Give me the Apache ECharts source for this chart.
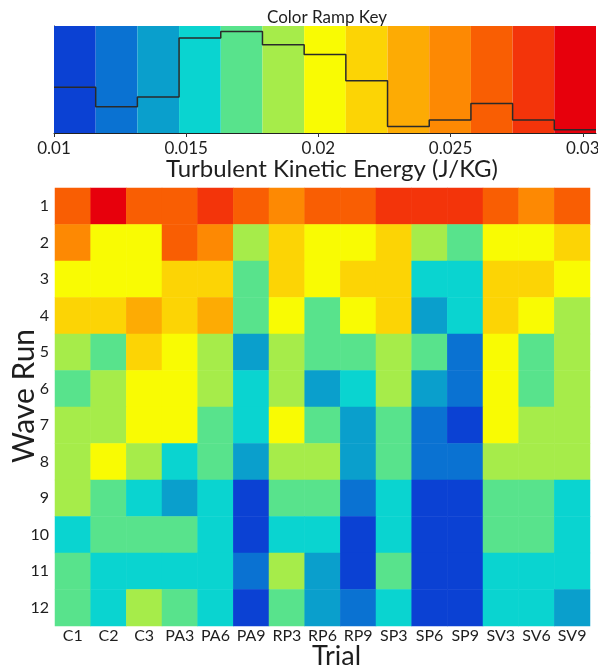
<!DOCTYPE html>
<html>
<head>
<meta charset="utf-8">
<script src="https://cdn.jsdelivr.net/npm/echarts@6/dist/echarts.min.js"></script>
<style>
  html, body { margin: 0; padding: 0; background: #fff; }
  #chart { width: 598px; height: 670px; }
</style>
</head>
<body>
<div id="chart"></div>
<script>
// Trials (columns) and wave runs (rows)
const trials = ['C1', 'C2', 'C3', 'PA3', 'PA6', 'PA9', 'RP3', 'RP6', 'RP9', 'SP3', 'SP6', 'SP9', 'SV3', 'SV6', 'SV9'];
const waveRuns = ['1', '2', '3', '4', '5', '6', '7', '8', '9', '10', '11', '12'];

// Turbulent kinetic energy (J/kg) per wave run (row) and trial (column)
const tke = [
  [0.0266, 0.0297, 0.0266, 0.0266, 0.0281, 0.0266, 0.0250, 0.0266, 0.0266, 0.0281, 0.0281, 0.0281, 0.0266, 0.0250, 0.0266],
  [0.0250, 0.0203, 0.0203, 0.0266, 0.0250, 0.0187, 0.0218, 0.0203, 0.0203, 0.0218, 0.0187, 0.0171, 0.0203, 0.0203, 0.0218],
  [0.0203, 0.0203, 0.0203, 0.0218, 0.0218, 0.0171, 0.0218, 0.0203, 0.0218, 0.0218, 0.0155, 0.0155, 0.0218, 0.0218, 0.0203],
  [0.0218, 0.0218, 0.0234, 0.0218, 0.0234, 0.0171, 0.0203, 0.0171, 0.0203, 0.0218, 0.0139, 0.0155, 0.0218, 0.0203, 0.0187],
  [0.0187, 0.0171, 0.0218, 0.0203, 0.0187, 0.0139, 0.0187, 0.0171, 0.0171, 0.0187, 0.0171, 0.0124, 0.0203, 0.0171, 0.0187],
  [0.0171, 0.0187, 0.0203, 0.0203, 0.0187, 0.0155, 0.0187, 0.0139, 0.0155, 0.0187, 0.0139, 0.0124, 0.0203, 0.0171, 0.0187],
  [0.0187, 0.0187, 0.0203, 0.0203, 0.0171, 0.0155, 0.0203, 0.0171, 0.0139, 0.0171, 0.0124, 0.0108, 0.0203, 0.0187, 0.0187],
  [0.0187, 0.0203, 0.0187, 0.0155, 0.0171, 0.0139, 0.0187, 0.0187, 0.0139, 0.0171, 0.0124, 0.0124, 0.0187, 0.0187, 0.0187],
  [0.0187, 0.0171, 0.0155, 0.0139, 0.0155, 0.0108, 0.0171, 0.0171, 0.0124, 0.0155, 0.0108, 0.0108, 0.0171, 0.0171, 0.0155],
  [0.0155, 0.0171, 0.0171, 0.0171, 0.0155, 0.0108, 0.0155, 0.0155, 0.0108, 0.0155, 0.0108, 0.0108, 0.0171, 0.0171, 0.0155],
  [0.0171, 0.0155, 0.0155, 0.0155, 0.0155, 0.0124, 0.0187, 0.0139, 0.0108, 0.0171, 0.0108, 0.0108, 0.0155, 0.0155, 0.0155],
  [0.0171, 0.0155, 0.0187, 0.0171, 0.0155, 0.0108, 0.0171, 0.0139, 0.0124, 0.0155, 0.0108, 0.0108, 0.0155, 0.0155, 0.0139]
];

// Color ramp range and tick labels
const rampMin = 0.01;
const rampMax = 0.0305;
const rampTicks = [0.01, 0.015, 0.02, 0.025, 0.03];

// One color per ramp class, blue (low) to red (high)
const rampColors = [
  '#0b41d3', '#0a72d2', '#0a9fcc', '#0ad4d0', '#58e38c', '#a6ec4a', '#f9fb03',
  '#fcd405', '#fdab04', '#fd8903', '#f95e03', '#f3340a', '#e7000c'
];

// Class edges split the ramp range evenly
const nBins = rampColors.length;
const binWidth = (rampMax - rampMin) / nBins;
const binEdges = rampColors.map((_, i) => rampMin + i * binWidth).concat([rampMax]);

// Count of cells falling in each class (histogram over all cells)
const binCounts = new Array(nBins).fill(0);
tke.forEach(row => row.forEach(v => {
  const k = Math.min(nBins - 1, Math.max(0, Math.floor((v - rampMin) / binWidth)));
  binCounts[k] += 1;
}));

// Series data
const binRects = binEdges.slice(0, -1).map((lo, i) => [lo, binEdges[i + 1], i]);
const histLine = binCounts.map((c, i) => [binEdges[i], c]).concat([[rampMax, binCounts[nBins - 1]]]);
const cells = [];
tke.forEach((row, r) => row.forEach((v, c) => cells.push([c, r, v])));
const pieces = binRects.map(([lo, hi, i]) => ({ gte: lo, lt: i === nBins - 1 ? hi + 1 : hi, color: rampColors[i] }));

const FONT = 'Lato, "Open Sans", sans-serif';
const TXT = '#1e1e1e';

const chart = echarts.init(document.getElementById('chart'), null, { renderer: 'canvas' });
chart.setOption({
  animation: false,
  backgroundColor: '#ffffff',
  title: {
    text: 'Color Ramp Key',
    left: 322,
    textAlign: 'center',
    top: 4,
    textStyle: { fontFamily: FONT, fontSize: 17, fontWeight: 'normal', color: TXT }
  },
  grid: [
    { left: 54, top: 26, width: 542, height: 107, outerBoundsMode: 'none', containLabel: false },
    { left: 55, top: 188, width: 535, height: 438, outerBoundsMode: 'none', containLabel: false }
  ],
  xAxis: [
    {
      gridIndex: 0, type: 'value', min: rampMin, max: rampMax, interval: 0.005,
      name: 'Turbulent Kinetic Energy (J/KG)', nameLocation: 'middle', nameGap: 24,
      nameMoveOverlap: false,
      nameTextStyle: { fontFamily: FONT, fontSize: 24, color: TXT, padding: [0, 0, 0, 14] },
      axisLine: { show: true, lineStyle: { color: '#222', width: 1 } },
      axisTick: { show: true, length: 4, customValues: rampTicks, lineStyle: { color: '#333' } },
      axisLabel: {
        customValues: rampTicks, margin: 7,
        fontFamily: FONT, fontSize: 17, color: TXT,
        formatter: v => String(+v.toFixed(4))
      },
      splitLine: { show: false }
    },
    {
      gridIndex: 1, type: 'category', data: trials,
      name: 'Trial', nameLocation: 'middle', nameGap: 17,
      nameMoveOverlap: false,
      nameTextStyle: { fontFamily: FONT, fontSize: 27, color: TXT, padding: [0, 0, 0, 28] },
      axisLine: { show: false }, axisTick: { show: false },
      axisLabel: { margin: 2, fontFamily: FONT, fontSize: 16, color: TXT, interval: 0 },
      splitArea: { show: false }
    }
  ],
  yAxis: [
    {
      gridIndex: 0, type: 'value', min: 0, max: 32.7,
      axisLine: { show: true, lineStyle: { color: '#222', width: 1 } },
      axisTick: { show: false }, axisLabel: { show: false }, splitLine: { show: false }
    },
    {
      gridIndex: 1, type: 'category', data: waveRuns, inverse: true,
      name: 'Wave Run', nameLocation: 'middle', nameGap: 16, nameRotate: 90,
      nameMoveOverlap: false,
      nameTextStyle: { fontFamily: FONT, fontSize: 30, color: TXT, padding: [0, 0, 0, 22] },
      axisLine: { show: false }, axisTick: { show: false },
      axisLabel: { margin: 6, fontFamily: FONT, fontSize: 16, color: TXT },
      splitArea: { show: false }
    }
  ],
  visualMap: {
    type: 'piecewise', show: false, seriesIndex: 2, dimension: 2,
    pieces: pieces
  },
  series: [
    {
      name: 'Color classes', type: 'custom', xAxisIndex: 0, yAxisIndex: 0,
      data: binRects, encode: { x: [0, 1] }, silent: true,
      renderItem: (params, api) => {
        const x0 = api.coord([api.value(0), 0])[0];
        const x1 = api.coord([api.value(1), 0])[0];
        const cs = params.coordSys;
        return {
          type: 'rect',
          shape: { x: x0, y: cs.y, width: x1 - x0, height: cs.height },
          style: { fill: rampColors[api.value(2)] }
        };
      }
    },
    {
      name: 'Cell count', type: 'line', xAxisIndex: 0, yAxisIndex: 0,
      data: histLine, step: 'end', showSymbol: false, symbol: 'none',
      lineStyle: { color: '#2a2a2a', width: 1.5 }, z: 5
    },
    {
      name: 'TKE', type: 'heatmap', xAxisIndex: 1, yAxisIndex: 1,
      data: cells, itemStyle: { borderWidth: 0 }
    }
  ]
});
</script>
</body>
</html>
